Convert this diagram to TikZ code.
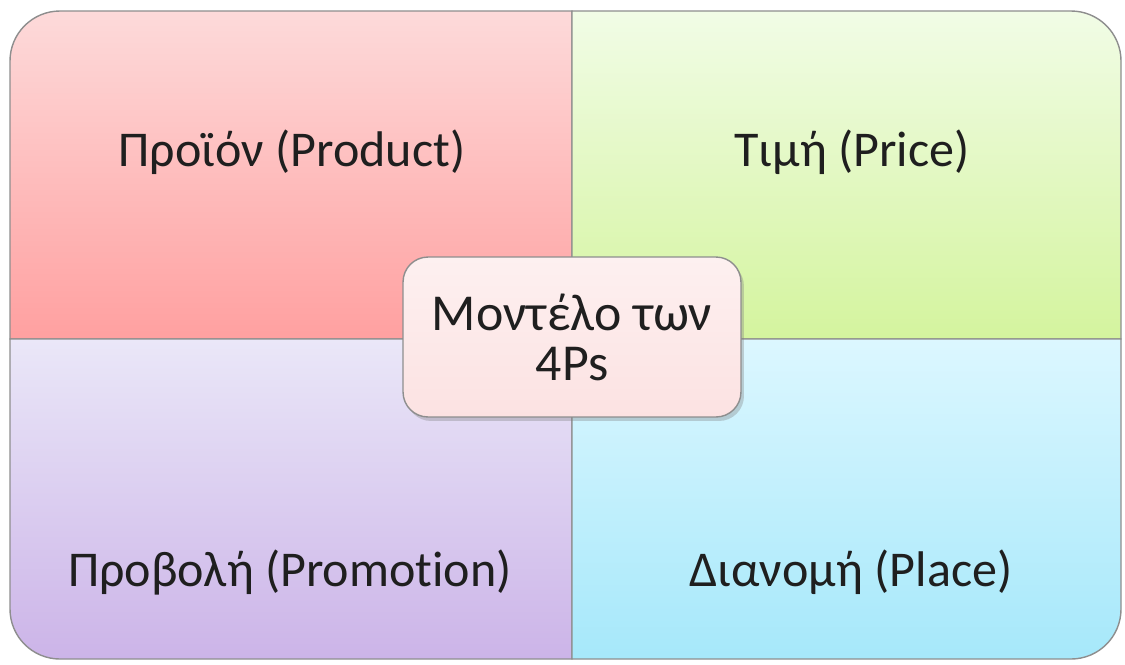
\documentclass[tikz,border=0pt]{standalone}
\usepackage{fontspec}
\setmainfont[Ligatures=NoCommon]{Carlito}
\usetikzlibrary{shadows}
\definecolor{prodTop}{HTML}{FDDADA}
\definecolor{prodBot}{HTML}{FFA0A0}
\definecolor{priceTop}{HTML}{F1FCE6}
\definecolor{priceBot}{HTML}{D4F49E}
\definecolor{promoTop}{HTML}{EAE7F8}
\definecolor{promoBot}{HTML}{CCB4E8}
\definecolor{placeTop}{HTML}{DCF7FF}
\definecolor{placeBot}{HTML}{A6E8FA}
\definecolor{modelTop}{HTML}{FDF0F0}
\definecolor{modelBot}{HTML}{FCE2E2}
\definecolor{edge}{HTML}{8E8E8E}
\tikzset{
  quad/.style={draw=edge, line width=0.8pt},
  label/.style={font=\fontsize{28.5}{30}\selectfont, text=black!88},
  modelbox/.style={draw=edge, line width=0.8pt, rounded corners=0.5cm,
    top color=modelTop, bottom color=modelBot,
    minimum width=6.76cm, minimum height=3.2cm, align=center,
    drop shadow={opacity=0.35, shadow xshift=0.06cm, shadow yshift=-0.08cm},
    font=\fontsize{29.5}{28.5}\selectfont, text=black!88}
}
\begin{document}
\begin{tikzpicture}[x=0.02cm, y=-0.02cm]
\useasboundingbox (0,0) rectangle (1125,664);
% quadrants
\path[quad, top color=prodTop, bottom color=prodBot]
  (10,339) [rounded corners=1cm] -- (10,11) [sharp corners] -- (572,11) -- (572,339) -- cycle;
\path[quad, top color=priceTop, bottom color=priceBot]
  (572,11) [rounded corners=1cm] -- (1121,11) [sharp corners] -- (1121,339) -- (572,339) -- cycle;
\path[quad, top color=promoTop, bottom color=promoBot]
  (10,339) -- (572,339) -- (572,659) [rounded corners=1cm] -- (10,659) [sharp corners] -- cycle;
\path[quad, top color=placeTop, bottom color=placeBot]
  (572,339) -- (1121,339) [rounded corners=1cm] -- (1121,659) [sharp corners] -- (572,659) -- cycle;
% labels
\node[label] (product) at (292,152) {Προϊόν (Product)};
\node[label] (price) at (852,152) {Τιμή (Price)};
\node[label] (promotion) at (290,572) {Προβολή (Promotion)};
\node[label] (place) at (851,572) {Διανομή (Place)};
% centre
\node[modelbox] (model) at (572,337) {Μοντέλο των\\4Ps};
\end{tikzpicture}
\end{document}
